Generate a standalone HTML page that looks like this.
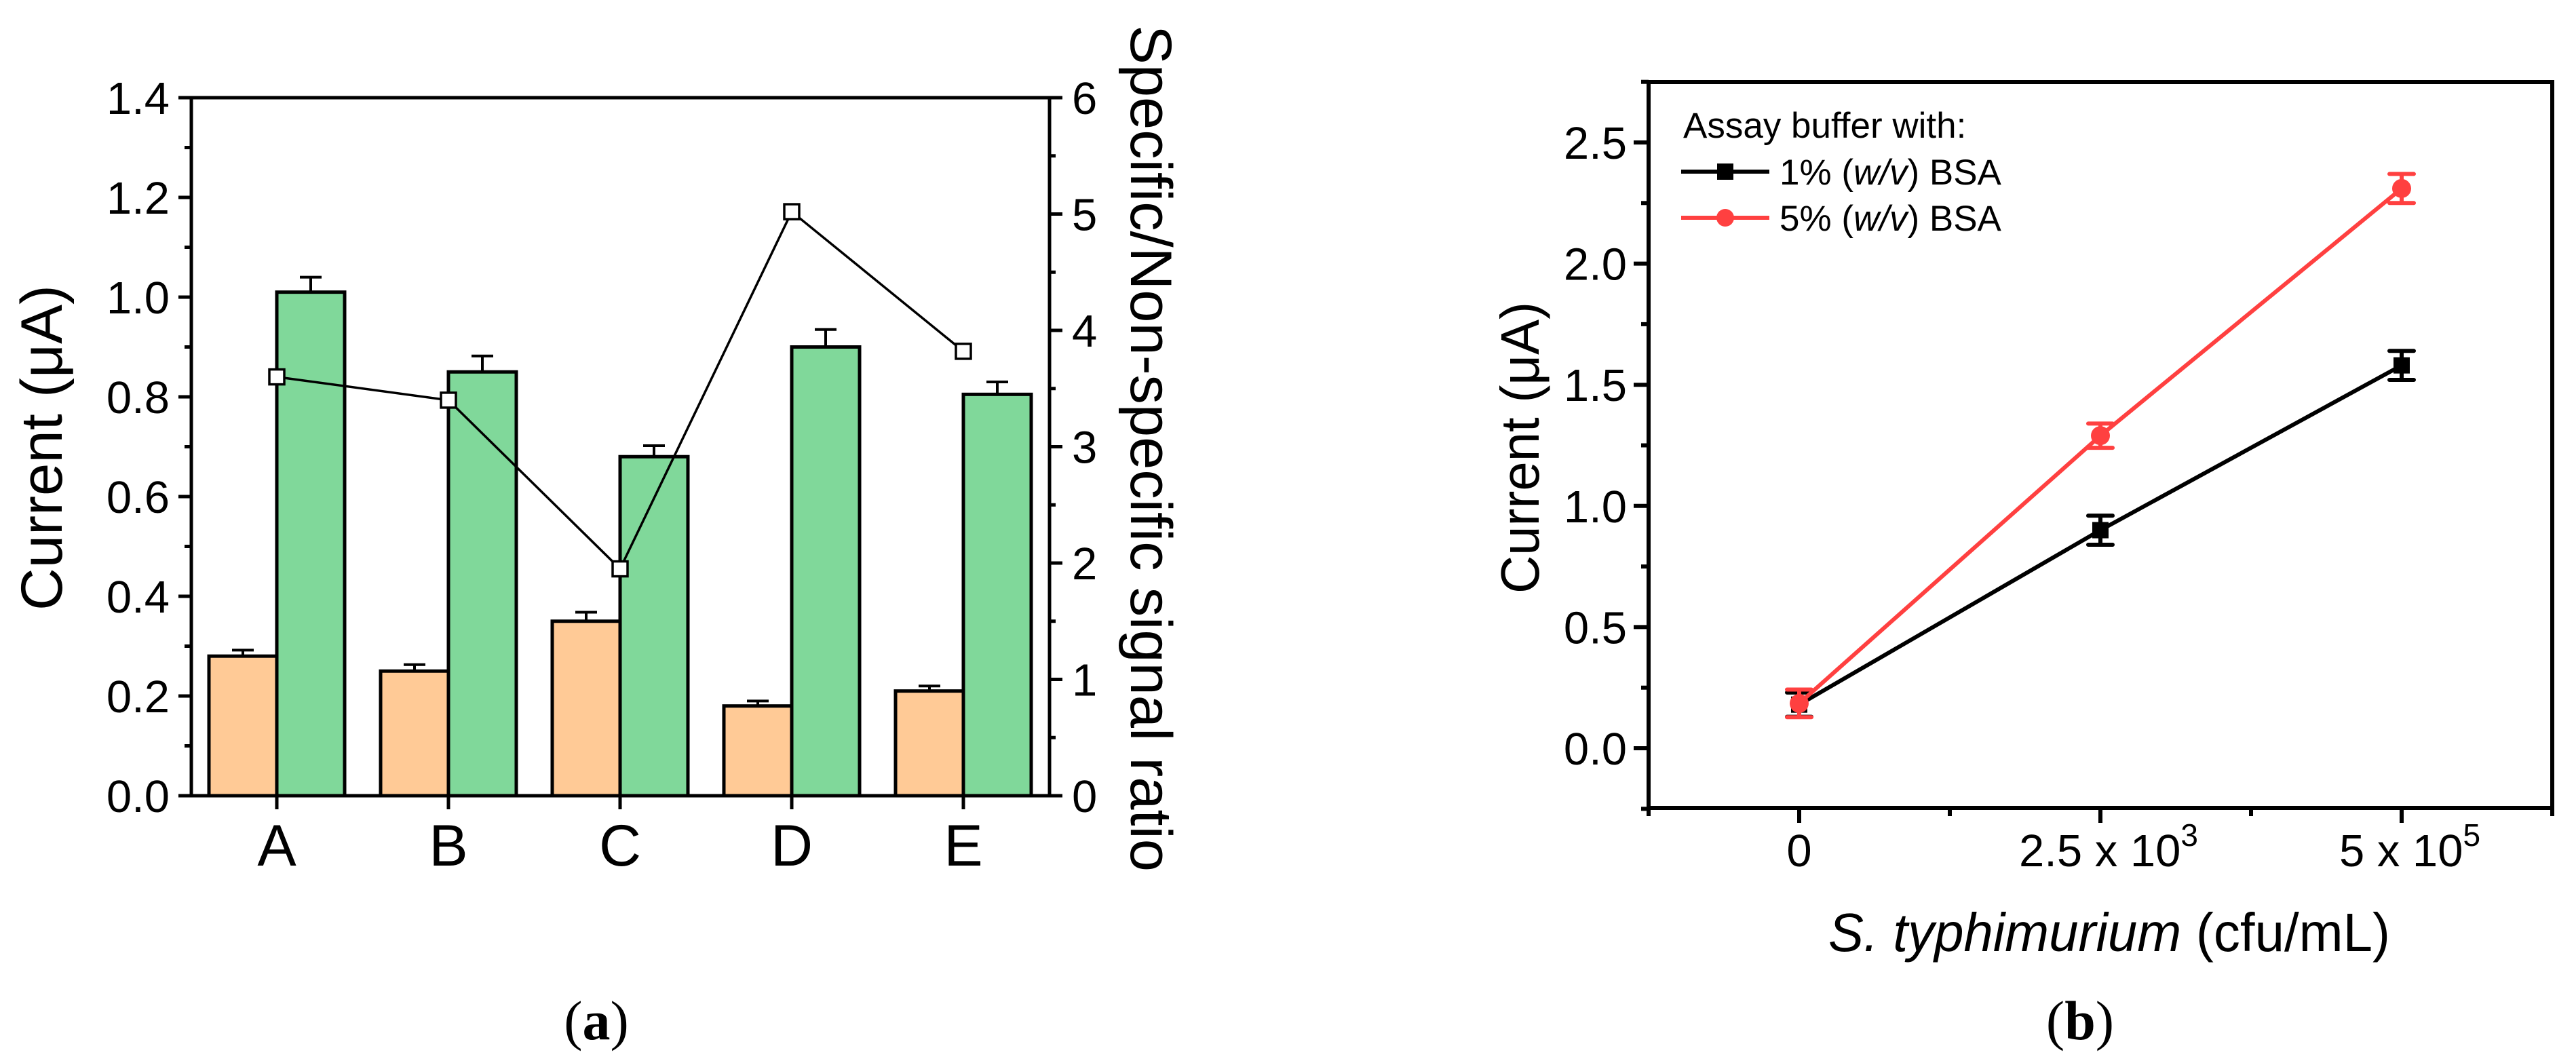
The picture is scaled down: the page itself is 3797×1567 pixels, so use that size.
<!DOCTYPE html>
<html><head><meta charset="utf-8">
<style>
html,body{margin:0;padding:0;background:#fff;}
svg{display:block;font-family:"Liberation Sans",Arial,sans-serif;}
</style></head>
<body>
<svg id="fig" width="3797" height="1567" viewBox="0 0 3797 1567" xmlns="http://www.w3.org/2000/svg">
<g id="pa"></g>
<g id="pb"></g>
</svg>
<script>
// Panel (a) data
const catsA = ["A","B","C","D","E"];
const nonSpecific = [0.28,0.25,0.35,0.18,0.21];
const nonSpecificErr = [0.012,0.013,0.018,0.01,0.01];
const specific = [1.01,0.85,0.68,0.90,0.805];
const specificErr = [0.03,0.032,0.022,0.035,0.025];
const ratio = [3.6,3.4,1.95,5.02,3.82];
const yTicksA = [0,0.2,0.4,0.6,0.8,1.0,1.2,1.4];
const y2Ticks = [0,1,2,3,4,5,6];
// Panel (b) data
const catsB = ["0","2.5 x 10","5 x 10"];
const catsBsup = ["","3","5"];
const bsa1 = [0.18,0.90,1.58];
const bsa1Err = [0.05,0.06,0.06];
const bsa5 = [0.185,1.29,2.31];
const bsa5Err = [0.057,0.05,0.06];
const yTicksB = [0,0.5,1.0,1.5,2.0,2.5];

const NS="http://www.w3.org/2000/svg";
function mk(parent,tag,attrs,text){const e=document.createElementNS(NS,tag);for(const k in attrs)e.setAttribute(k,attrs[k]);if(text!==undefined)e.textContent=text;parent.appendChild(e);return e;}

// ---------- Panel A ----------
const pa=document.getElementById('pa');
const aL=282,aR=1547,aT=144,aB=1173;
const yA=v=>aB-(v/1.4)*(aB-aT);
const y2=v=>aB-(v/6)*(aB-aT);
const xA=i=>408+i*253;
// bars
catsA.forEach((c,i)=>{
  const cx=xA(i);
  let e=mk(pa,'line',{x1:cx-50,x2:cx-50,y1:yA(nonSpecific[i]),y2:yA(nonSpecific[i]+nonSpecificErr[i]),stroke:'#000','stroke-width':4});
  
  e=mk(pa,'line',{x1:cx-66,x2:cx-34,y1:yA(nonSpecific[i]+nonSpecificErr[i]),y2:yA(nonSpecific[i]+nonSpecificErr[i]),stroke:'#000','stroke-width':4});
  
  e=mk(pa,'line',{x1:cx+50,x2:cx+50,y1:yA(specific[i]),y2:yA(specific[i]+specificErr[i]),stroke:'#000','stroke-width':4});
  
  e=mk(pa,'line',{x1:cx+34,x2:cx+66,y1:yA(specific[i]+specificErr[i]),y2:yA(specific[i]+specificErr[i]),stroke:'#000','stroke-width':4});
  
  e=mk(pa,'rect',{x:cx-100,y:yA(nonSpecific[i]),width:100,height:aB-yA(nonSpecific[i]),fill:'#FFCA96',stroke:'#000','stroke-width':5});
  
  e=mk(pa,'rect',{x:cx,y:yA(specific[i]),width:100,height:aB-yA(specific[i]),fill:'#80D89A',stroke:'#000','stroke-width':5});
  
});
// ratio line
let pts=ratio.map((v,i)=>xA(i)+','+y2(v)).join(' ');
let ln=mk(pa,'polyline',{points:pts,fill:'none',stroke:'#000','stroke-width':3.5});

ratio.forEach((v,i)=>{
  const e=mk(pa,'rect',{x:xA(i)-11,y:y2(v)-11,width:22,height:22,fill:'#fff',stroke:'#000','stroke-width':3.5});
  
});
// axes
let ax=mk(pa,'path',{d:`M${aL},${aT} L${aR},${aT} M${aL},${aT-2} L${aL},${aB+2} M${aR},${aT-2} L${aR},${aB+2} M${aL-2},${aB} L${aR+2},${aB}`,stroke:'#000','stroke-width':5,fill:'none'});

yTicksA.forEach(v=>{
  let e=mk(pa,'line',{x1:aL-19,x2:aL,y1:yA(v),y2:yA(v),stroke:'#000','stroke-width':5});
  
  e=mk(pa,'text',{x:250,y:yA(v)+24,'font-size':67,'text-anchor':'end'},v.toFixed(1));
  
  if(v<1.4){e=mk(pa,'line',{x1:aL-10,x2:aL,y1:yA(v+0.1),y2:yA(v+0.1),stroke:'#000','stroke-width':5});
  }
});
y2Ticks.forEach(v=>{
  let e=mk(pa,'line',{x1:aR,x2:aR+19,y1:y2(v),y2:y2(v),stroke:'#000','stroke-width':5});
  
  e=mk(pa,'text',{x:1580,y:y2(v)+24,'font-size':67},String(v));
  
  if(v<6){e=mk(pa,'line',{x1:aR,x2:aR+9,y1:y2(v+0.5),y2:y2(v+0.5),stroke:'#000','stroke-width':5});
  }
});
catsA.forEach((c,i)=>{
  let e=mk(pa,'line',{x1:xA(i),x2:xA(i),y1:aB,y2:aB+20,stroke:'#000','stroke-width':5});
  
  e=mk(pa,'text',{x:xA(i),y:1276,'font-size':86,'text-anchor':'middle'},c);
  
});
let t=mk(pa,'text',{transform:'translate(91,660) rotate(-90)','font-size':86,'text-anchor':'middle',textLength:480,lengthAdjust:'spacingAndGlyphs'},'Current (μA)');

t=mk(pa,'text',{transform:'translate(1667,661) rotate(90)','font-size':86,'text-anchor':'middle',textLength:1248,lengthAdjust:'spacingAndGlyphs'},'Specific/Non-specific signal ratio');

t=mk(pa,'text',{x:879,y:1532,'font-size':82,'text-anchor':'middle','font-family':'Liberation Serif, serif'});
t.innerHTML='(<tspan font-weight="bold">a</tspan>)';


// ---------- Panel B ----------
const pb=document.getElementById('pb');
const bL=2430,bR=3762,bT=121,bB=1191;
const yB=v=>1103-v*357.2;
const xB=i=>2652+i*444;
function series(vals,errs,color,isSq,name){
  let e=mk(pb,'polyline',{points:vals.map((v,i)=>xB(i)+','+yB(v)).join(' '),fill:'none',stroke:color,'stroke-width':6});
  
  vals.forEach((v,i)=>{
    const x=xB(i),y1=yB(v+errs[i]),y2v=yB(v-errs[i]);
    let g=mk(pb,'path',{d:`M${x},${y1} L${x},${y2v} M${x-18},${y1} L${x+18},${y1} M${x-18},${y2v} L${x+18},${y2v}`,stroke:color,'stroke-width':6,'stroke-linecap':'round',fill:'none'});
    
    if(isSq){g=mk(pb,'rect',{x:x-12,y:yB(v)-12,width:24,height:24,fill:color});}
    else{g=mk(pb,'circle',{cx:x,cy:yB(v),r:14,fill:color});}
    
  });
}
series(bsa1,bsa1Err,'#000',true,'bsa-1pct');
series(bsa5,bsa5Err,'#FF4040',false,'bsa-5pct');
ax=mk(pb,'path',{d:`M${bL},${bT} L${bR},${bT} L${bR},${bB} L${bL},${bB} Z`,stroke:'#000','stroke-width':6,fill:'none'});

yTicksB.forEach(v=>{
  let e=mk(pb,'line',{x1:bL-22,x2:bL,y1:yB(v),y2:yB(v),stroke:'#000','stroke-width':6});
  
  e=mk(pb,'text',{x:2398,y:yB(v)+24,'font-size':67,'text-anchor':'end'},v.toFixed(1));
  
});
[-0.25,0.25,0.75,1.25,1.75,2.25,2.75].forEach(v=>{
  const e=mk(pb,'line',{x1:bL-11,x2:bL,y1:yB(v),y2:yB(v),stroke:'#000','stroke-width':6});
  
});
catsB.forEach((c,i)=>{
  let e=mk(pb,'line',{x1:xB(i),x2:xB(i),y1:bB,y2:bB+22,stroke:'#000','stroke-width':6});
  
  e=mk(pb,'text',{x:xB(i)+(catsBsup[i]?12:0),y:1277,'font-size':67,'text-anchor':'middle'});
  e.innerHTML=c+(catsBsup[i]?'<tspan font-size="46" dy="-30">'+catsBsup[i]+'</tspan>':'');
  
});
[-0.5,0.5,1.5,2.5].forEach(k=>{
  const e=mk(pb,'line',{x1:xB(k),x2:xB(k),y1:bB,y2:bB+12,stroke:'#000','stroke-width':6});
  
});
t=mk(pb,'text',{transform:'translate(2268,660) rotate(-90)','font-size':80,'text-anchor':'middle',textLength:430,lengthAdjust:'spacingAndGlyphs'},'Current (μA)');

t=mk(pb,'text',{x:3109,y:1402,'font-size':80,'text-anchor':'middle',textLength:828,lengthAdjust:'spacingAndGlyphs'});
t.innerHTML='<tspan font-style="italic">S. typhimurium</tspan> (cfu/mL)';

// legend
t=mk(pb,'text',{x:2481,y:203,'font-size':53},'Assay buffer with:');

let lg=mk(pb,'line',{x1:2478,x2:2608,y1:253,y2:253,stroke:'#000','stroke-width':6});

lg=mk(pb,'rect',{x:2531,y:241,width:24,height:24,fill:'#000'});

t=mk(pb,'text',{x:2623,y:272,'font-size':53});
t.innerHTML='1% (<tspan font-style="italic">w/v</tspan>) BSA';

lg=mk(pb,'line',{x1:2478,x2:2608,y1:321,y2:321,stroke:'#FF4040','stroke-width':6});

lg=mk(pb,'circle',{cx:2543,cy:321,r:13,fill:'#FF4040'});

t=mk(pb,'text',{x:2623,y:340,'font-size':53});
t.innerHTML='5% (<tspan font-style="italic">w/v</tspan>) BSA';

t=mk(pb,'text',{x:3066,y:1532,'font-size':82,'text-anchor':'middle','font-family':'Liberation Serif, serif'});
t.innerHTML='(<tspan font-weight="bold">b</tspan>)';

</script>
</body></html>
